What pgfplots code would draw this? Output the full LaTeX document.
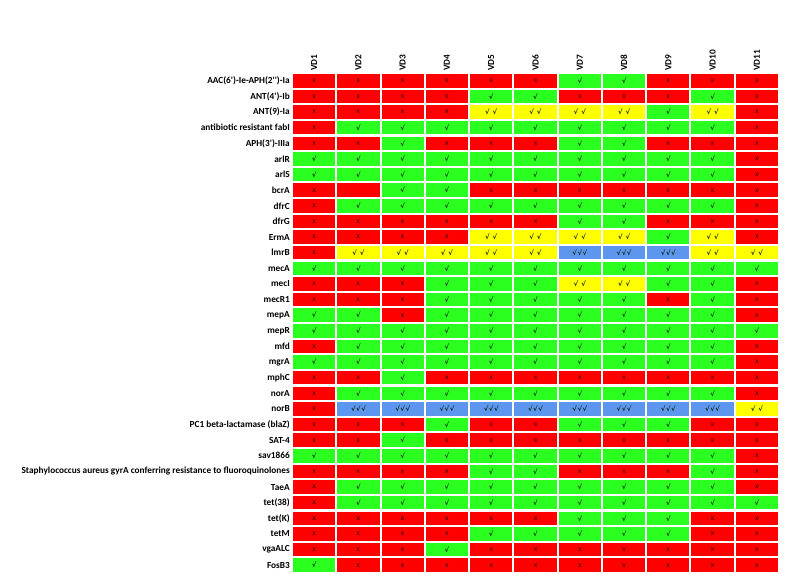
\documentclass[border=0pt]{standalone}
\usepackage{pgfplots}
\pgfplotsset{compat=1.18}
\usepackage{pgfplotstable}
\usepackage{fontspec}
\setmainfont{Carlito}[Ligatures=TeXOff]
\newfontfamily\symf{DejaVu Sans}
\definecolor{cred}{HTML}{FF0000}
\definecolor{cgreen}{HTML}{2BFF1F}
\definecolor{cyellow}{HTML}{FFFF00}
\definecolor{cblue}{HTML}{5C96EE}
\definecolor{xcol}{HTML}{6A0000}
\definecolor{vcol}{HTML}{102810}
\pgfdeclareplotmark{cell}{\pgfpathrectangle{\pgfpoint{-21.1pt}{-6.8pt}}{\pgfpoint{42.2pt}{13.6pt}}\pgfusepathqfill}
\newcommand\ccX{\textcolor{xcol}{\fontsize{7.5}{8}\selectfont\bfseries x}}
\newcommand\ccA{\textcolor{vcol}{\symf\bfseries √}}
\newcommand\ccB{\textcolor{vcol}{\symf\bfseries √\hspace{3pt}√}}
\newcommand\ccC{\textcolor{vcol}{\symf\bfseries √\hspace{0.6pt}√\hspace{0.6pt}√}}
\newcommand\celltext[1]{\ifcase#1\relax\ccX\or\ccA\or\ccB\or\ccC\or\fi}
% 0 = x (absent), 1 = one tick, 2 = two ticks, 3 = three ticks, 4 = red cell without mark
\pgfplotstableread{
VD1 VD2 VD3 VD4 VD5 VD6 VD7 VD8 VD9 VD10 VD11
0 0 0 0 0 0 1 1 0 0 0
0 0 0 0 1 1 0 0 0 1 0
0 0 0 0 2 2 2 2 1 2 0
0 1 1 1 1 1 1 1 1 1 0
0 0 1 0 0 0 1 1 0 0 0
1 1 1 1 1 1 1 1 1 1 0
1 1 1 1 1 1 1 1 1 1 0
0 4 1 1 0 0 0 0 0 0 0
0 1 1 1 1 1 1 1 1 1 0
0 0 0 0 0 0 1 1 0 0 0
0 0 0 0 2 2 2 2 1 2 0
0 2 2 2 2 2 3 3 3 2 2
1 1 1 1 1 1 1 1 1 1 1
0 0 0 1 1 1 2 2 1 1 0
0 0 0 1 1 1 1 1 0 1 0
1 1 0 1 1 1 1 1 1 1 0
1 1 1 1 1 1 1 1 1 1 1
0 1 1 1 1 1 1 1 1 1 0
1 1 1 1 1 1 1 1 1 1 0
0 0 1 0 0 0 0 0 0 0 0
0 1 1 1 1 1 1 1 1 1 0
0 3 3 3 3 3 3 3 3 3 2
0 0 0 1 0 0 1 1 1 0 0
0 0 1 0 0 0 0 0 0 0 0
1 1 1 1 1 1 1 1 1 1 0
0 0 0 0 1 1 0 0 0 1 0
0 1 1 1 1 1 1 1 1 1 0
0 1 1 1 1 1 1 1 1 1 1
0 0 0 0 0 0 1 1 1 0 0
0 0 0 0 1 1 1 1 1 0 0
0 0 0 1 0 0 0 0 0 0 0
1 0 0 0 0 0 0 0 0 0 0
}\data
\begin{document}
\begin{tikzpicture}
\begin{axis}[name=ax, scale only axis, width=487pt, height=500pt,
  xmin=0.5, xmax=11.5, ymin=0.5, ymax=32.5,
  axis line style={draw=none}, major tick length=0pt, clip=false,
  xtick={1,...,11}, xticklabels={VD1,VD2,VD3,VD4,VD5,VD6,VD7,VD8,VD9,VD10,VD11},
  xticklabel pos=upper,
  xticklabel style={rotate=90, anchor=west, font=\bfseries\fontsize{9.3}{11}\selectfont, inner sep=2pt},
  ytick={1,...,32},
  yticklabels={FosB3,vgaALC,tetM,tet(K),tet(38),TaeA,Staphylococcus aureus gyrA conferring resistance to fluoroquinolones,sav1866,SAT-4,PC1 beta-lactamase (blaZ),norB,norA,mphC,mgrA,mfd,mepR,mepA,mecR1,mecI,mecA,lmrB,ErmA,dfrG,dfrC,bcrA,arlS,arlR,APH(3')-IIIa,antibiotic resistant fabI,ANT(9)-Ia,ANT(4')-Ib,AAC(6')-Ie-APH(2'')-Ia},
  yticklabel style={font=\bfseries\fontsize{9.3}{11}\selectfont, anchor=east, inner sep=2pt},
  cellplot/.style={only marks, mark=cell, mark options={fill=#1, draw=none}},
  textplot/.style={only marks, mark=none, point meta=explicit symbolic,
    nodes near coords={\celltext{\pgfplotspointmeta}},
    every node near coord/.append style={anchor=center, inner sep=0pt, font=\fontsize{6.8}{7}\selectfont}},
]
\pgfplotsinvokeforeach{1,...,11}{
  \addplot[cellplot=cred] table[x expr=#1, y expr=32-\coordindex] {\data};
  \addplot[cellplot=cgreen, restrict expr to domain={\thisrow{VD#1}}{1:1}] table[x expr=#1, y expr=32-\coordindex] {\data};
  \addplot[cellplot=cyellow, restrict expr to domain={\thisrow{VD#1}}{2:2}] table[x expr=#1, y expr=32-\coordindex] {\data};
  \addplot[cellplot=cblue, restrict expr to domain={\thisrow{VD#1}}{3:3}] table[x expr=#1, y expr=32-\coordindex] {\data};
}
\pgfplotsinvokeforeach{1,...,11}{
  \addplot[textplot] table[x expr=#1, y expr=32-\coordindex, meta=VD#1] {\data};
}
\end{axis}
\pgfresetboundingbox
\path[use as bounding box] ([xshift=-292pt,yshift=-3pt]ax.south west) rectangle ([xshift=6pt,yshift=73pt]ax.north east);
\end{tikzpicture}
\end{document}
